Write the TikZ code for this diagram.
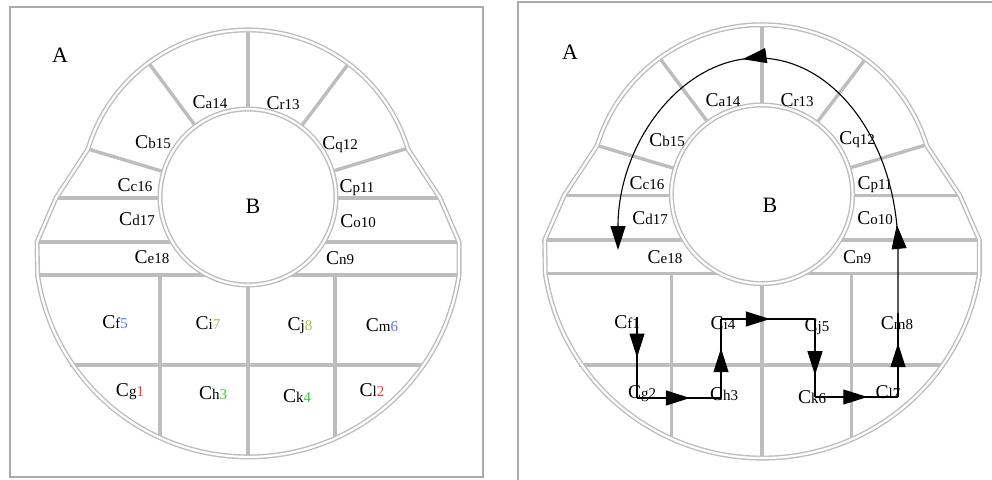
\documentclass[tikz,border=0pt]{standalone}
\usepackage{fontspec}
\setmainfont{Liberation Serif}
\usetikzlibrary{arrows.meta,decorations.markings}
\definecolor{lg}{HTML}{BDBDBD}
\definecolor{fr}{HTML}{ABABAB}
\definecolor{nblue}{HTML}{5577FF}
\definecolor{nyel}{HTML}{A8C040}
\definecolor{nred}{HTML}{FF3333}
\definecolor{ngreen}{HTML}{33CC33}
\newcommand{\clab}[3]{{\fontsize{19.5}{18}\selectfont C}{\fontsize{15}{14}\selectfont #1\textcolor{#3}{#2}}}
\newcommand{\ringplan}{%
  % radial and straight dividers
  \draw[divl] (248,30) -- (248,109);
  \draw[divl] (148.6,62.8) -- (195.7,126.3);
  \draw[divl] (88,149) -- (163.7,171.7);
  \draw[divl] (56,198) -- (161,198);
  \draw[divl] (37,242) -- (172.4,242);
  \draw[divl] (37,275) -- (207.3,275);
  \draw[divl] (348.5,63.6) -- (301,126.7);
  \draw[divl] (407.7,148.2) -- (332.2,171.3);
  \draw[divl] (336,198) -- (440,198);
  \draw[divl] (323.6,242) -- (459,242);
  \draw[divl] (288.7,275) -- (459,275);
  \draw[divl] (160,275) -- (160,440);
  \draw[divl] (248,284) -- (248,458);
  \draw[divl] (335,275) -- (335,440);
  \draw[divl] (70,365) -- (426,365);
  % double outlines
  \draw[dbl] (248,197) circle[radius=88];
  \draw[dbl] (88,149) arc[start angle=-163.3, end angle=-16.7, radius=167]
     -- (440,198) -- (459,242) -- (459,275)
     arc[start angle=8.4, end angle=171.6, radius=213]
     -- (37,242) -- (56,198) -- cycle;
}
\tikzset{
  dbl/.style={draw=lg, line width=1.4pt, double=white, double distance=2.2pt},
  divl/.style={draw=lg, line width=3.4pt},
  framel/.style={draw=fr, line width=1.5pt},
  lab/.style={anchor=base, inner sep=0pt},
  big/.style={anchor=base, inner sep=0pt, font=\fontsize{22}{22}\selectfont},
  conn/.style={draw=black, line width=1.1pt},
  tri/.tip={Triangle[length=24pt,width=15pt]},
  midarr/.style={postaction={decorate}, decoration={markings, mark=at position #1 with {\arrow{tri}}}}
}
\begin{document}
\begin{tikzpicture}[x=1pt, y=-1pt]
\path[use as bounding box] (0,0) rectangle (992,479);
\clip (0,0) rectangle (992,479);
% ---------- left panel ----------
\draw[framel] (10,7) rectangle (483,477);
\ringplan
\node[big] (A1) at (60,62) {A};
\node[big] (B1) at (253,213) {B};
\node[lab] (la14) at (210,108) {\clab{a}{14}{black}};
\node[lab] (lr13) at (283,109) {\clab{r}{13}{black}};
\node[lab] (lb15) at (153,148) {\clab{b}{15}{black}};
\node[lab] (lq12) at (340,149) {\clab{q}{12}{black}};
\node[lab] (lc16) at (135,191) {\clab{c}{16}{black}};
\node[lab] (lp11) at (357,192) {\clab{p}{11}{black}};
\node[lab] (ld17) at (137,225) {\clab{d}{17}{black}};
\node[lab] (lo10) at (358,227) {\clab{o}{10}{black}};
\node[lab] (le18) at (152,263) {\clab{e}{18}{black}};
\node[lab] (ln9) at (340,264) {\clab{n}{9}{black}};
\node[lab] (lf5) at (115,328) {\clab{f}{5}{nblue}};
\node[lab] (li7) at (208,329) {\clab{i}{7}{nyel}};
\node[lab] (lj8) at (300,330) {\clab{j}{8}{nyel}};
\node[lab] (lm6) at (382,331) {\clab{m}{6}{nblue}};
\node[lab] (lg1) at (130,396) {\clab{g}{1}{nred}};
\node[lab] (lh3) at (213,399) {\clab{h}{3}{ngreen}};
\node[lab] (lk4) at (297,402) {\clab{k}{4}{ngreen}};
\node[lab] (ll2) at (372,396) {\clab{l}{2}{nred}};
% ---------- right panel ----------
\draw[framel] (518,485) -- (518,2) -- (1000,2);
\begin{scope}[shift={(762,242)}, xscale=1.03, yscale=1.015, shift={(-248,-244)}]
\ringplan
\end{scope}
\node[big] (A2) at (570,59) {A};
\node[big] (B2) at (770,212) {B};
\node[lab] (ra14) at (723,106) {\clab{a}{14}{black}};
\node[lab] (rr13) at (797,106) {\clab{r}{13}{black}};
\node[lab] (rb15) at (667,146) {\clab{b}{15}{black}};
\node[lab] (rq12) at (857,144) {\clab{q}{12}{black}};
\node[lab] (rc16) at (647,189) {\clab{c}{16}{black}};
\node[lab] (rp11) at (875,189) {\clab{p}{11}{black}};
\node[lab] (rd17) at (650,224) {\clab{d}{17}{black}};
\node[lab] (ro10) at (875,224) {\clab{o}{10}{black}};
\node[lab] (re18) at (665,263) {\clab{e}{18}{black}};
\node[lab] (rn9) at (857,263) {\clab{n}{9}{black}};
\node[lab] (rf1) at (627,328) {\clab{f}{1}{black}};
\node[lab] (ri4) at (723,329) {\clab{i}{4}{black}};
\node[lab] (rj5) at (817,331) {\clab{j}{5}{black}};
\node[lab] (rm8) at (897,329) {\clab{m}{8}{black}};
\node[lab] (rg2) at (642,398) {\clab{g}{2}{black}};
\node[lab] (rh3) at (724,400) {\clab{h}{3}{black}};
\node[lab] (rk6) at (812,403) {\clab{k}{6}{black}};
\node[lab] (rl7) at (888,398) {\clab{l}{7}{black}};
% path points
\coordinate (p1) at (637,317);
\coordinate (p2) at (637,398);
\coordinate (p3) at (721,398);
\coordinate (p4) at (721,319);
\coordinate (p5) at (815,319);
\coordinate (p6) at (815,397);
\coordinate (p7) at (898,397);
\coordinate (p8) at (898,313);
\coordinate (q0) at (898,250);
\draw[conn, midarr=0.5] (p1) -- (p2);
\draw[conn, midarr=0.63] (p2) -- (p3);
\draw[conn, midarr=0.63] (p3) -- (p4);
\draw[conn, midarr=0.52] (p4) -- (p5);
\draw[conn, midarr=0.72] (p5) -- (p6);
\draw[conn, midarr=0.63] (p6) -- (p7);
\draw[conn, midarr=0.64] (p7) -- (p8);
\draw[conn, -{tri}, postaction={decorate},
  decoration={markings, mark=at position 0.15 with {\arrow{tri}}, mark=at position 0.58 with {\arrow{tri}}}]
  (p8) -- (q0) arc[start angle=0, end angle=-180, x radius=140, y radius=192];
\end{tikzpicture}
\end{document}
